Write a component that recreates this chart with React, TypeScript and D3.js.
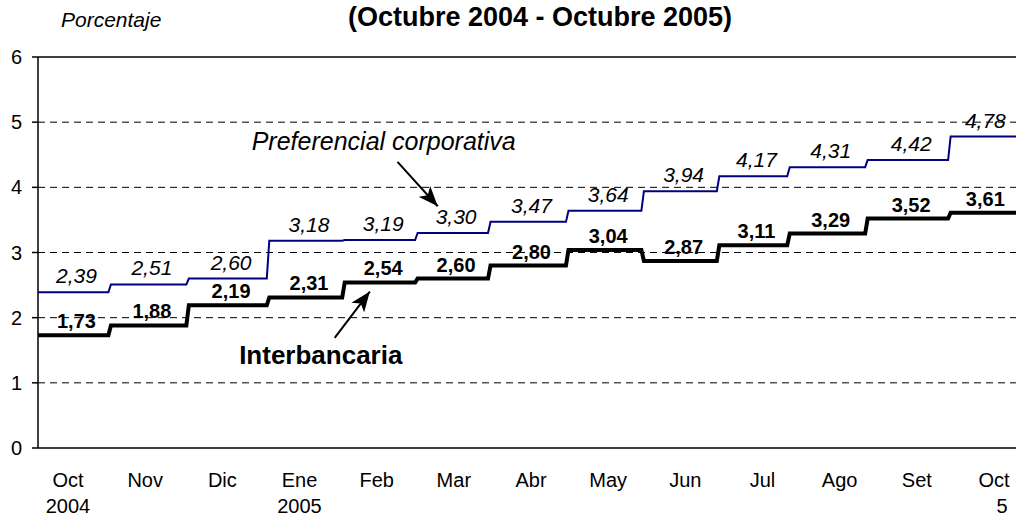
import React, { useEffect } from 'react'
import * as d3 from "d3";

////////////////////
//// Data
const months = [ "Oct", "Nov", "Dic", "Ene", "Feb", "Mar", "Abr", "May", "Jun", "Jul", "Ago", "Set", "Oct" ];
const years = [ "2004", "", "", "2005", "", "", "", "", "", "", "", "", "5" ];

const stepDates = [ "2004-10-03", "2004-11-01", "2004-12-02", "2005-01-03", "2005-02-02", "2005-03-03",
    "2005-04-01", "2005-05-02", "2005-06-01", "2005-07-01", "2005-07-29", "2005-08-29", "2005-10-01" ];
const endDate = "2005-10-27";

const preferencial = [ 2.39, 2.51, 2.60, 3.18, 3.19, 3.30, 3.47, 3.64, 3.94, 4.17, 4.31, 4.42, 4.78 ];
const interbancaria = [ 1.73, 1.88, 2.19, 2.31, 2.54, 2.60, 2.80, 3.04, 2.87, 3.11, 3.29, 3.52, 3.61 ];

const yTicks = [ 0, 1, 2, 3, 4, 5, 6 ];

// annotations, in data units
const prefNote = { text: "Preferencial corporativa", at: [ "2004-12-27", 4.57 ], from: [ "2005-02-23", 4.39 ], to: [ "2005-03-11", 3.71 ] };
const interNote = { text: "Interbancaria", at: [ "2004-12-22", 1.29 ], from: [ "2005-01-29", 1.69 ], to: [ "2005-02-12", 2.40 ] };

////////////////////
//// Layout
const width = 1016;
const height = 518;
const margin = { top: 57, right: 0, bottom: 70, left: 38 };
const font = "'Liberation Sans', Arial, sans-serif";

const parse = d3.timeParse("%Y-%m-%d");
const fmt = (v) => d3.format(".2f")(v).replace(".", ",");

export default function App() {
    useEffect(() => {
        document.body.style.margin = "0";
    }, []);

    const x = d3.scaleTime()
        .domain([ parse(stepDates[0]), parse(endDate) ])
        .range([ margin.left, width - margin.right ]);
    const y = d3.scaleLinear()
        .domain([ 0, 6 ])
        .range([ height - margin.bottom, margin.top ]);
    const xMonth = d3.scalePoint()
        .domain(months.map((d, i) => String(i)))
        .range([ margin.left + 30, width - 22 ]);

    const dates = stepDates.map(parse);
    const end = parse(endDate);

    // each level runs until the day before the next change
    const segEnd = (i) => i < dates.length - 1 ? d3.timeDay.offset(dates[i + 1], -1) : end;
    const stepPoints = (vals) => vals.flatMap((v, i) => [ [ dates[i], v ], [ segEnd(i), v ] ]);

    const line = d3.line()
        .x(d => x(d[0]))
        .y(d => y(d[1]));

    const labelX = (i) => ( x(dates[i]) + x(i < dates.length - 1 ? dates[i + 1] : end) ) / 2 + 2;

    const ax = (p) => [ x(parse(p[0])), y(p[1]) ];

    return (
        <svg width={ width } height={ height } style={ { display: "block", fontFamily: font } }>
            <defs>
                <marker id="arrow" viewBox="0 0 20 16" refX="20" refY="8" markerWidth="20" markerHeight="16"
                        markerUnits="userSpaceOnUse" orient="auto">
                    <path d="M0,0 L20,8 L0,16 L5,8 Z" fill="#000"/>
                </marker>
            </defs>

            <text x={ 540 } y={ 26 } textAnchor="middle" fontSize={ 27 } fontWeight="bold">(Octubre 2004 - Octubre 2005)</text>
            <text x={ 61 } y={ 27 } fontSize={ 21 } fontStyle="italic">Porcentaje</text>

            {/* grid */ }
            { yTicks.filter(t => t > 0 && t < 6).map(t => (
                <line key={ t } x1={ margin.left } x2={ width } y1={ y(t) } y2={ y(t) }
                      stroke="#000" strokeWidth={ 1 } strokeDasharray="7,5"/>
            )) }
            <line x1={ margin.left } x2={ width } y1={ y(6) } y2={ y(6) } stroke="#000" strokeWidth={ 1.5 }/>
            <line x1={ margin.left } x2={ width } y1={ y(0) } y2={ y(0) } stroke="#000" strokeWidth={ 1.5 }/>
            <line x1={ margin.left } x2={ margin.left } y1={ y(0) } y2={ y(6) } stroke="#000" strokeWidth={ 1.5 }/>

            {/* y axis */ }
            { yTicks.map(t => (
                <g key={ t }>
                    <line x1={ margin.left - 6 } x2={ margin.left } y1={ y(t) } y2={ y(t) } stroke="#000" strokeWidth={ 1.5 }/>
                    <text x={ 22 } y={ y(t) + 7 } textAnchor="end" fontSize={ 20 }>{ t }</text>
                </g>
            )) }

            {/* x axis labels */ }
            { months.map((m, i) => (
                <g key={ i }>
                    <text x={ xMonth(String(i)) } y={ 487 } textAnchor="middle" fontSize={ 20 }>{ m }</text>
                    { years[i] && (
                        <text x={ xMonth(String(i)) + ( i === months.length - 1 ? 8 : 0 ) } y={ 513 }
                              textAnchor="middle" fontSize={ 20 }>{ years[i] }</text>
                    ) }
                </g>
            )) }

            {/* series */ }
            <path d={ line(stepPoints(preferencial)) } fill="none" stroke="#000080" strokeWidth={ 2 }/>
            <path d={ line(stepPoints(interbancaria)) } fill="none" stroke="#000" strokeWidth={ 4 }/>

            {/* value labels */ }
            { preferencial.map((v, i) => (
                <text key={ "p" + i } x={ labelX(i) } y={ y(v) - 9 } textAnchor="middle" fontSize={ 21 }
                      fontStyle="italic">{ fmt(v) }</text>
            )) }
            { interbancaria.map((v, i) => (
                <text key={ "i" + i } x={ labelX(i) } y={ y(v) - 7 } textAnchor="middle" fontSize={ 20 }
                      fontWeight="bold">{ fmt(v) }</text>
            )) }

            {/* annotations */ }
            <text x={ ax(prefNote.at)[0] } y={ ax(prefNote.at)[1] } fontSize={ 25 } fontStyle="italic">{ prefNote.text }</text>
            <line x1={ ax(prefNote.from)[0] } y1={ ax(prefNote.from)[1] } x2={ ax(prefNote.to)[0] } y2={ ax(prefNote.to)[1] }
                  stroke="#000" strokeWidth={ 2 } markerEnd="url(#arrow)"/>
            <text x={ ax(interNote.at)[0] } y={ ax(interNote.at)[1] } fontSize={ 26 } fontWeight="bold">{ interNote.text }</text>
            <line x1={ ax(interNote.from)[0] } y1={ ax(interNote.from)[1] } x2={ ax(interNote.to)[0] } y2={ ax(interNote.to)[1] }
                  stroke="#000" strokeWidth={ 2 } markerEnd="url(#arrow)"/>
        </svg>
    );
}
